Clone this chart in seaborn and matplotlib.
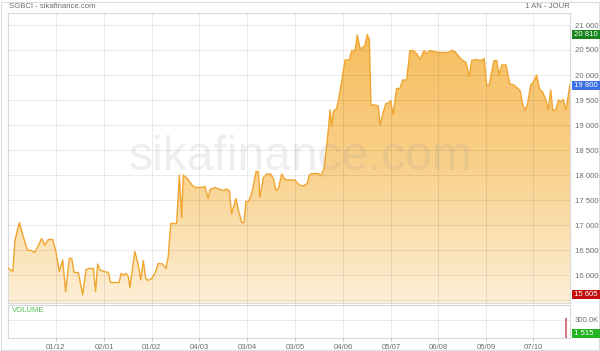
import numpy as np
import pandas as pd
import seaborn as sns
import matplotlib
matplotlib.use("Agg")
import matplotlib.pyplot as plt
from matplotlib import transforms
from matplotlib.patches import Rectangle
from matplotlib.colors import LinearSegmentedColormap

# ---------------- data ----------------
sessions = [0.0, 2.1, 3.1, 5.0, 6.5, 8.5, 10.4, 11.6, 12.9, 14.8, 16.3, 17.8, 19.7, 21.1,
            22.6, 24.1, 25.4, 27.0, 28.1, 29.1, 31.0, 32.9, 34.4, 35.8, 37.6, 38.6, 39.5,
            40.5, 42.3, 44.2, 45.2, 47.1, 49.0, 49.8, 50.8, 52.0, 53.0, 53.7, 55.9, 57.4,
            58.5, 59.6, 60.7, 61.8, 63.3, 64.8, 66.2, 68.1, 69.6, 70.6, 71.7, 74.3, 75.5,
            76.5, 77.2, 79.0, 81.4, 83.1, 85.3, 86.8, 88.2, 89.0, 91.2, 93.4, 95.2, 96.0,
            97.5, 98.5, 100.4, 101.5, 103.0, 104.0, 104.8, 105.9, 107.4, 109.3, 110.3,
            111.0, 112.5, 114.0, 115.7, 116.9, 118.1, 119.1, 120.6, 122.0, 124.2, 126.4,
            128.3, 130.1, 131.9, 132.7, 133.8, 136.7, 137.8, 139.2, 140.7, 141.9, 142.6,
            143.3, 144.8, 145.9, 147.0, 148.5, 150.4, 151.4, 152.9, 153.9, 155.1, 156.4,
            157.3, 158.3, 159.2, 159.9, 161.7, 163.1, 163.9, 165.3, 166.5, 167.5, 168.6,
            169.7, 171.2, 172.7, 173.9, 175.6, 177.1, 178.5, 180.0, 181.5, 183.3, 184.4,
            185.9, 187.4, 190.3, 194.0, 195.5, 196.9, 198.4, 200.3, 201.8, 203.2, 204.3,
            206.2, 207.6, 209.1, 209.8, 210.9, 212.0, 213.1, 214.1, 215.3, 216.4, 217.5,
            219.4, 221.1, 222.9, 224.1, 225.6, 226.7, 227.8, 228.8, 230.3, 231.4, 232.9,
            234.1, 235.6, 237.0, 238.0, 239.1, 240.0, 241.4, 242.5, 243.5, 244.6, 245.8,
            247.6]
closes = [16140, 16070, 16700, 17050, 16800, 16500, 16490, 16450, 16540, 16730, 16600, 16710,
          16710, 16470, 16070, 16300, 15670, 16330, 16330, 16050, 16050, 15605, 16110, 16130,
          16130, 15670, 16220, 16100, 16070, 16050, 15850, 15850, 15850, 16030, 16000, 16030,
          15970, 15750, 16470, 16200, 15900, 16290, 15930, 15890, 15930, 16040, 16230, 16220,
          16130, 16370, 17030, 17030, 18000, 17150, 18000, 17930, 17780, 17750, 17750, 17770,
          17530, 17710, 17750, 17710, 17690, 17720, 17690, 17220, 17530, 17300, 17050, 17050,
          17470, 17470, 17630, 18070, 18070, 17550, 17950, 18020, 18020, 17930, 17690, 17730,
          18020, 17910, 17900, 17900, 17800, 17780, 17830, 18000, 18030, 18030, 17980, 18130,
          18700, 19300, 18970, 19270, 19330, 19570, 19870, 20300, 20300, 20490, 20490, 20800,
          20530, 20550, 20600, 20810, 20700, 19400, 19400, 19380, 19000, 19250, 19430, 19430,
          19490, 19200, 19730, 19730, 19900, 19900, 20490, 20490, 20430, 20310, 20490, 20430,
          20490, 20470, 20450, 20450, 20490, 20470, 20380, 20290, 20250, 19970, 20290, 20310,
          20290, 20300, 20330, 19800, 19800, 20070, 20290, 20290, 20000, 20200, 20200, 19820,
          19800, 19750, 19690, 19420, 19300, 19400, 19800, 19850, 20000, 19730, 19650, 19500,
          19300, 19700, 19290, 19310, 19500, 19470, 19510, 19300, 19800]

tick_sessions = [21.1, 42.3, 63.4, 84.1, 105.3, 126.4, 147.6, 168.7, 189.4, 210.6, 231.3]
tick_labels = ["01/12", "02/01", "01/02", "04/03", "03/04", "03/05",
               "04/06", "05/07", "06/08", "05/09", "07/10"]
price_ticks = [15500, 16000, 16500, 17000, 17500, 18000, 18500, 19000, 19500,
               20000, 20500, 21000]
price_tick_labels = ["", "16 000", "16 500", "17 000", "17 500", "18 000", "18 500",
                     "19 000", "19 500", "20 000", "20 500", "21 000"]
price_limits = [15440, 21240]
session_limits = [0, 247.6]

vol_sessions = [245.8, 247.6]
vol_values = [333000, 1515]
vol_colors = ["#d9737f", "#6cc06c"]
vol_ticks = [300000]
vol_tick_labels = ["300.0K"]
vol_limits = [0, 550000]

high_value, high_label = 20810, "20 810"
last_value, last_label = 19800, "19 800"
low_value, low_label = 15605, "15 605"
last_volume, last_volume_label = 1515, "1 515"

title_left = "SGBCI - sikafinance.com"
title_right = "1 AN - JOUR"
watermark = "sikafinance.com"

# ---------------- style ----------------
sns.set_theme(style="white")
plt.rcParams["font.family"] = ["Liberation Sans", "DejaVu Sans"]
FS = 5.6
TXT = "#6e6e6e"
SPINE = "#d9d9d9"

W, H = 600, 351
fig = plt.figure(figsize=(W / 100, H / 100), dpi=100)
fig.patch.set_facecolor("white")

ax = fig.add_axes([8 / W, 1 - 303 / H, 562 / W, 290 / H])
axv = fig.add_axes([8 / W, 1 - 338 / H, 562 / W, 33 / H])

df = pd.DataFrame({"session": sessions, "close": closes})

# gradient fill under the line
poly = ax.fill_between(sessions, closes, price_limits[0], color="none", lw=0)
cmap = LinearSegmentedColormap.from_list("fillgrad", ["#fdefd6", "#f9d08a", "#f6bd5c"])
grad = np.linspace(0, 1, 256).reshape(-1, 1)
im = ax.imshow(grad, extent=[session_limits[0], session_limits[1], price_limits[0], 21000],
               origin="lower", aspect="auto", cmap=cmap, zorder=1)
im.set_clip_path(poly.get_paths()[0], transform=ax.transData)

sns.lineplot(data=df, x="session", y="close", ax=ax, color="#f0a530", lw=1.0,
             zorder=3, estimator=None, sort=False)

ax.set_xlim(*session_limits)
ax.set_ylim(*price_limits)
ax.set_xlabel("")
ax.set_ylabel("")
ax.set_xticks(tick_sessions)
ax.set_xticklabels([])
ax.yaxis.tick_right()
ax.set_yticks(price_ticks)
ax.set_yticklabels(price_tick_labels)
ax.tick_params(axis="y", length=0, pad=3.3, labelsize=FS, labelcolor=TXT)
ax.tick_params(axis="x", length=0)
ax.set_axisbelow(False)
ax.grid(True, color="black", alpha=0.08, lw=0.75)
for s in ax.spines.values():
    s.set_color(SPINE)
    s.set_linewidth(0.8)

# volume panel
axv.bar(vol_sessions, vol_values, width=0.8, color=vol_colors, lw=0, zorder=3)
axv.set_xlim(*session_limits)
axv.set_ylim(*vol_limits)
axv.set_xticks(tick_sessions)
axv.set_xticklabels(tick_labels)
axv.yaxis.tick_right()
axv.set_yticks(vol_ticks)
axv.set_yticklabels(vol_tick_labels)
axv.tick_params(axis="y", length=0, pad=3.3, labelsize=FS, labelcolor=TXT)
axv.tick_params(axis="x", length=2, width=0.6, color="#bbbbbb", pad=2.5,
                labelsize=FS, labelcolor=TXT, bottom=True)
axv.set_axisbelow(False)
axv.grid(True, color="black", alpha=0.08, lw=0.75)
for s in axv.spines.values():
    s.set_color(SPINE)
    s.set_linewidth(0.8)

# titles and watermark
fig.text(9 / W, 1 - 7 / H, title_left, fontsize=FS, color=TXT, ha="left", va="center")
fig.text(570 / W, 1 - 7 / H, title_right, fontsize=FS, color=TXT, ha="right", va="center")
fig.text(12 / W, 1 - 311 / H, "VOLUME", fontsize=FS, color="#4fbf4f", ha="left", va="center")
fig.text(300 / W, 1 - 170 / H, watermark, fontsize=34.5, color="#9a9a9a", alpha=0.16,
         ha="center", va="baseline", zorder=5)


def value_box(target_ax, value, label, color, px_per_unit, low_clamp=None):
    h = 9 / px_per_unit
    center = value
    if low_clamp is not None:
        center = max(value, low_clamp + h / 2)
    tr = transforms.blended_transform_factory(fig.transFigure, target_ax.transData)
    fig.add_artist(Rectangle((571.5 / W, center - h / 2), 28.5 / W, h, transform=tr,
                             facecolor=color, edgecolor="none", zorder=10))
    fig.add_artist(matplotlib.text.Text(573.5 / W, center, label, transform=tr,
                                        fontsize=FS, color="white", ha="left",
                                        va="center", zorder=11,
                                        fontfamily=["Liberation Sans", "DejaVu Sans"]))


ppu_price = 290 / (price_limits[1] - price_limits[0])
ppu_vol = 33 / (vol_limits[1] - vol_limits[0])
value_box(ax, high_value, high_label, "#16841a", ppu_price)
value_box(ax, last_value, last_label, "#3a6fe6", ppu_price)
value_box(ax, low_value, low_label, "#c40c0c", ppu_price)
value_box(axv, last_volume, last_volume_label, "#22b322", ppu_vol, low_clamp=vol_limits[0])

# outer frame
fig.add_artist(Rectangle((0.5 / W, 1.5 / H), 598.5 / W, 347.5 / H, transform=fig.transFigure,
                         fill=False, edgecolor="#dcdcdc", lw=0.8, zorder=0))

fig.savefig("out.png", dpi=100)
